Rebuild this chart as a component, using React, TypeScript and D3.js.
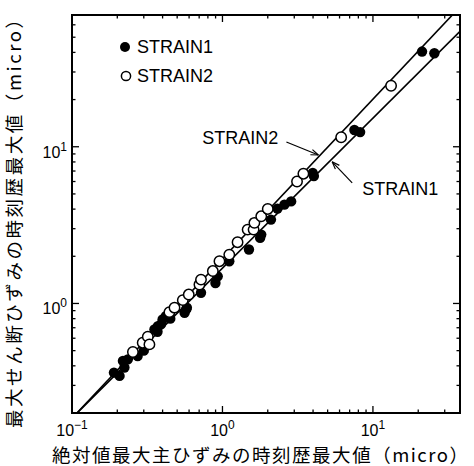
import React from "react";
import * as d3 from "d3";

// absolute max principal strain (x) vs max shear strain (y), both in micro
const strain1X = [0.19, 0.207, 0.218, 0.223, 0.235, 0.273, 0.3, 0.353, 0.37, 0.372, 0.39, 0.4, 0.42, 0.45, 0.56, 0.574, 0.58, 0.72, 0.898, 0.93, 1.11, 1.5, 1.78, 1.81, 2.1, 2.32, 2.58, 2.86, 3.98, 4.05, 7.53, 8.22, 21.2, 25.6];
const strain1Y = [0.362, 0.345, 0.43, 0.39, 0.44, 0.462, 0.5, 0.683, 0.66, 0.717, 0.735, 0.79, 0.83, 0.8, 0.873, 0.916, 0.94, 1.17, 1.35, 1.49, 1.86, 2.21, 2.62, 2.75, 3.43, 4.03, 4.27, 4.48, 6.8, 6.5, 12.8, 12.4, 40.5, 39.5];

const strain2X = [0.254, 0.295, 0.319, 0.327, 0.444, 0.48, 0.545, 0.597, 0.703, 0.72, 0.863, 0.955, 1.11, 1.26, 1.47, 1.61, 1.63, 1.81, 2.0, 3.13, 3.45, 6.15, 13.2];
const strain2Y = [0.49, 0.562, 0.614, 0.548, 0.88, 0.94, 1.05, 1.14, 1.32, 1.42, 1.61, 1.86, 2.05, 2.46, 2.96, 2.96, 3.27, 3.6, 4.01, 6.0, 6.73, 11.5, 24.5];

// fitted power laws y = a * x^b
const fitNames = ["STRAIN1", "STRAIN2"];
const fitA = [1.68, 1.93];
const fitB = [0.957, 1.018];
// where the annotation arrows touch each line (x value)
const arrowAtX = [5.36, 4.34];

const xTitle = "絶対値最大主ひずみの時刻歴最大値（micro）";
const yTitle = "最大せん断ひずみの時刻歴最大値（micro）";

const xDomain = [0.1, 37.9];
const yDomain = [0.2, 69.3];

const W = 474;
const H = 466;
const margin = { left: 72, top: 15, right: 14, bottom: 53 };

const font = "'Liberation Sans', Arial, Helvetica, sans-serif";
const jpFont = "'Noto Sans CJK JP', 'Liberation Sans', sans-serif";

const App = () => {
    const x = d3.scaleLog().domain(xDomain).range([margin.left, W - margin.right]);
    const y = d3.scaleLog().domain(yDomain).range([H - margin.bottom, margin.top]);
    const [x0, x1] = x.range();
    const [y0, y1] = y.range();

    const isMajor = (v: number) => Math.abs(Math.log10(v) - Math.round(Math.log10(v))) < 1e-9;
    const xTicks = x.ticks();
    const yTicks = y.ticks();

    const fitPath = (k: number) => {
        const pts = xDomain.map(v => [x(v), y(fitA[k] * Math.pow(v, fitB[k]))] as [number, number]);
        return d3.line()(pts);
    };

    const s1 = strain1X.map((v, i) => ({ x: v, y: strain1Y[i] }));
    const s2 = strain2X.map((v, i) => ({ x: v, y: strain2Y[i] }));

    const sup = (v: number) => {
        const e = Math.round(Math.log10(v));
        return e < 0 ? "\u2212" + Math.abs(e) : String(e);
    };

    // annotation: label offset from arrow tip
    const ann = [
        { k: 0, dx: 20, dy: 21, tx: 30, ty: 33, anchor: "start" },
        { k: 1, dx: -32, dy: -13, tx: -40, ty: -11, anchor: "end" }
    ];

    return (
        <svg width={W} height={H} style={{ position: "absolute", left: 0, top: 0, background: "#fff" }}
            fontFamily={font}>
            <defs>
                <clipPath id="plotClip">
                    <rect x={x0} y={y1} width={x1 - x0} height={y0 - y1} />
                </clipPath>
            </defs>

            {/* ticks, all four sides, pointing in */}
            {xTicks.map((t, i) => {
                const len = isMajor(t) ? 7 : 3.5;
                return (
                    <g key={"xt" + i} stroke="#000" strokeWidth={1.3}>
                        <line x1={x(t)} x2={x(t)} y1={y0} y2={y0 - len} />
                        <line x1={x(t)} x2={x(t)} y1={y1} y2={y1 + len} />
                    </g>
                );
            })}
            {yTicks.map((t, i) => {
                const len = isMajor(t) ? 7 : 3.5;
                return (
                    <g key={"yt" + i} stroke="#000" strokeWidth={1.3}>
                        <line x1={x0} x2={x0 + len} y1={y(t)} y2={y(t)} />
                        <line x1={x1} x2={x1 - len} y1={y(t)} y2={y(t)} />
                    </g>
                );
            })}

            {/* tick labels */}
            {xTicks.filter(isMajor).map((t, i) => (
                <text key={"xl" + i} x={x(t)} y={y0 + 23} textAnchor="middle" fontSize={16}>
                    10<tspan dy={-7} fontSize={12}>{sup(t)}</tspan>
                </text>
            ))}
            {yTicks.filter(isMajor).map((t, i) => (
                <text key={"yl" + i} x={x0 - 5} y={y(t) + 11} textAnchor="end" fontSize={16}>
                    10<tspan dy={-7} fontSize={12}>{sup(t)}</tspan>
                </text>
            ))}

            {/* fitted lines */}
            <g clipPath="url(#plotClip)">
                {fitNames.map((n, k) => (
                    <path key={n} d={fitPath(k) || ""} fill="none" stroke="#000" strokeWidth={1.6} />
                ))}
            </g>

            {/* points */}
            {s1.map((d, i) => (
                <circle key={"a" + i} cx={x(d.x)} cy={y(d.y)} r={5.2} fill="#000" />
            ))}
            {s2.map((d, i) => (
                <circle key={"b" + i} cx={x(d.x)} cy={y(d.y)} r={5.2} fill="#fff" stroke="#000" strokeWidth={1.5} />
            ))}

            {/* frame */}
            <rect x={x0} y={y1} width={x1 - x0} height={y0 - y1} fill="none" stroke="#000" strokeWidth={2} />

            {/* legend */}
            <circle cx={125} cy={47} r={5} fill="#000" />
            <text x={137} y={53} fontSize={18}>{fitNames[0]}</text>
            <circle cx={126} cy={76} r={4.6} fill="#fff" stroke="#000" strokeWidth={1.5} />
            <text x={137} y={82} fontSize={18}>{fitNames[1]}</text>

            {/* annotations */}
            {ann.map(a => {
                const tx = arrowAtX[a.k];
                const px = x(tx);
                const py = y(fitA[a.k] * Math.pow(tx, fitB[a.k])) + (a.k === 0 ? 3 : -2);
                const sx = px + a.dx;
                const sy = py + a.dy;
                const ang = Math.atan2(py - sy, px - sx);
                const hl = 8;
                const spread = 0.35;
                return (
                    <g key={"ann" + a.k}>
                        <line x1={sx} y1={sy} x2={px} y2={py} stroke="#000" strokeWidth={1.2} />
                        <line x1={px} y1={py} x2={px - hl * Math.cos(ang - spread)} y2={py - hl * Math.sin(ang - spread)} stroke="#000" strokeWidth={1.2} />
                        <line x1={px} y1={py} x2={px - hl * Math.cos(ang + spread)} y2={py - hl * Math.sin(ang + spread)} stroke="#000" strokeWidth={1.2} />
                        <text x={px + a.tx} y={py + a.ty} fontSize={18} textAnchor={a.anchor}>{fitNames[a.k]}</text>
                    </g>
                );
            })}

            {/* axis titles */}
            <text x={260} y={462} textAnchor="middle" fontSize={18.5} fontFamily={jpFont}
                textLength={416} lengthAdjust="spacing">
                {xTitle}
            </text>
            <text transform={`translate(21,219) rotate(-90)`} textAnchor="middle" fontSize={18.5} fontFamily={jpFont}
                textLength={418} lengthAdjust="spacing">
                {yTitle}
            </text>
        </svg>
    );
};

export default App;
